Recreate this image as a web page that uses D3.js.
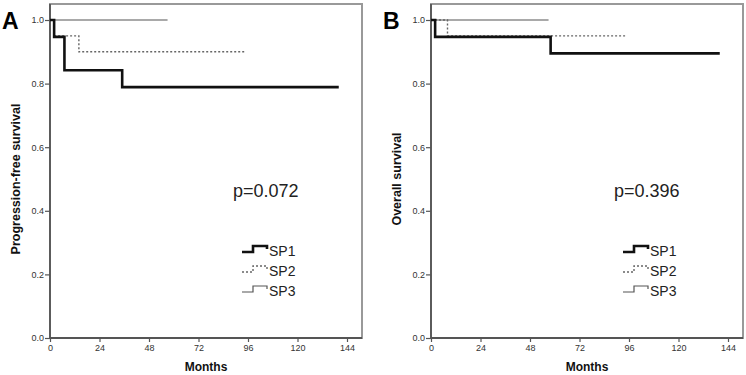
<!DOCTYPE html>
<html>
<head>
<meta charset="utf-8">
<script src="https://cdn.jsdelivr.net/npm/d3@7"></script>
<style>
  body { margin: 0; background: #fff; }
  svg { display: block; font-family: "Liberation Sans", Arial, sans-serif; }
</style>
</head>
<body>
<svg id="chart" width="746" height="375"></svg>
<script>
// tick values
const monthTicks = [0, 24, 48, 72, 96, 120, 144];
const survTicks = [0.0, 0.2, 0.4, 0.6, 0.8, 1.0];
const groups = ["SP1", "SP2", "SP3"];

// Kaplan-Meier steps: [month, survival]
const pfsSP1 = [[0, 1], [2, 0.947], [7, 0.842], [35, 0.789], [140, 0.789]];
const pfsSP2 = [[0, 1], [2, 0.95], [14, 0.90], [95, 0.90]];
const pfsSP3 = [[0, 1], [57, 1]];

const osSP1 = [[0, 1], [2, 0.947], [58, 0.895], [140, 0.895]];
const osSP2 = [[0, 1], [8, 0.95], [95, 0.95]];
const osSP3 = [[0, 1], [57, 1]];

const panels = [
  { letter: "A", left: 50, ytitle: "Progression-free survival", pval: "p=0.072", series: [pfsSP3, pfsSP2, pfsSP1] },
  { letter: "B", left: 431, ytitle: "Overall survival", pval: "p=0.396", series: [osSP3, osSP2, osSP1] }
];

// line styles: SP1, SP2, SP3
const styles = {
  SP1: { stroke: "#111", width: 2.6, dash: null },
  SP2: { stroke: "#666", width: 1.4, dash: "2,2" },
  SP3: { stroke: "#555", width: 1.2, dash: null }
};
const order = ["SP3", "SP2", "SP1"];

const svg = d3.select("#chart");
const frameTop = 4, frameBottom = 338, frameW = 312;

const y = d3.scaleLinear().domain([0, 1]).range([frameBottom, 20]);

panels.forEach(p => {
  const x = d3.scaleLinear().domain([0, 144]).range([p.left, p.left + 297]);
  const g = svg.append("g");

  // frame (top/right)
  g.append("rect")
    .attr("x", p.left)
    .attr("y", frameTop)
    .attr("width", frameW)
    .attr("height", frameBottom - frameTop)
    .attr("fill", "none")
    .attr("stroke", "#999")
    .attr("stroke-width", 2);

  // axes
  const yAxis = g.append("g")
    .attr("transform", `translate(${p.left},0)`)
    .call(d3.axisLeft(y).tickValues(survTicks).tickFormat(d3.format(".1f")).tickSize(5).tickPadding(1));
  const xAxis = g.append("g")
    .attr("transform", `translate(0,${frameBottom})`)
    .call(d3.axisBottom(x).tickValues(monthTicks).tickSize(4).tickPadding(3));

  [yAxis, xAxis].forEach(a => {
    a.select(".domain").attr("stroke", "#555").attr("stroke-width", 1.8);
    a.selectAll(".tick line").attr("stroke", "#555").attr("stroke-width", 1.2);
    a.selectAll(".tick text")
      .attr("fill", "#333")
      .style("font-size", "9px")
      .style("font-family", "'Liberation Sans', Arial, sans-serif");
  });
  xAxis.select(".domain").attr("d", `M${p.left},0H${p.left + frameW}`);
  yAxis.select(".domain").attr("d", `M0,${frameBottom}V${frameTop}`);

  // curves
  const line = d3.line()
    .x(d => x(d[0]))
    .y(d => y(d[1]))
    .curve(d3.curveStepAfter);

  p.series.forEach((s, i) => {
    const st = styles[order[i]];
    g.append("path")
      .datum(s)
      .attr("d", line)
      .attr("fill", "none")
      .attr("stroke", st.stroke)
      .attr("stroke-width", st.width)
      .attr("stroke-dasharray", st.dash);
  });

  // p value
  g.append("text")
    .attr("x", p.left + 183)
    .attr("y", 197)
    .style("font-size", "18px")
    .attr("fill", "#222")
    .text(p.pval);

  // legend
  groups.forEach((name, i) => {
    const st = styles[name];
    const lx = p.left + 192;
    const ly = 256 + i * 20;
    g.append("path")
      .attr("d", `M${lx},${ly - 4}h11v-6h14v3`)
      .attr("fill", "none")
      .attr("stroke", st.stroke)
      .attr("stroke-width", st.width)
      .attr("stroke-dasharray", st.dash);
    g.append("text")
      .attr("x", lx + 27)
      .attr("y", ly)
      .style("font-size", "14px")
      .attr("fill", "#222")
      .text(name);
  });

  // axis titles
  g.append("text")
    .attr("transform", `translate(${p.left - 30},${(frameBottom + 20) / 2}) rotate(-90)`)
    .attr("text-anchor", "middle")
    .style("font-size", "12.5px")
    .style("font-weight", "bold")
    .attr("fill", "#111")
    .text(p.ytitle);

  g.append("text")
    .attr("x", p.left + frameW / 2)
    .attr("y", 371)
    .attr("text-anchor", "middle")
    .style("font-size", "12px")
    .style("font-weight", "bold")
    .attr("fill", "#111")
    .text("Months");

  // panel letter
  g.append("text")
    .attr("x", p.left - 48)
    .attr("y", 29)
    .style("font-size", "23px")
    .style("font-weight", "bold")
    .attr("fill", "#000")
    .text(p.letter);
});
</script>
</body>
</html>
